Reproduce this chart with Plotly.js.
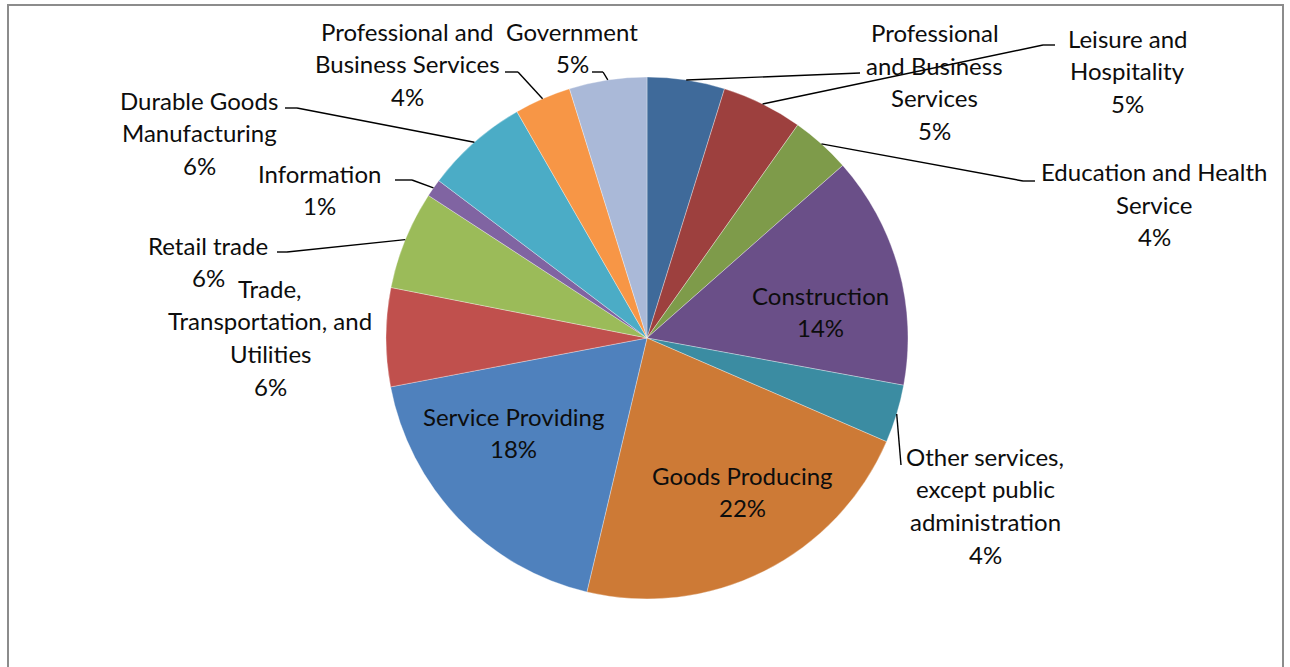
<!DOCTYPE html>
<html>
<head>
<meta charset="utf-8">
<script src="https://cdn.plot.ly/plotly-3.0.1.min.js"></script>
<style>
  html, body { margin: 0; padding: 0; background: #ffffff; }
  #chart { width: 1290px; height: 667px; }
</style>
</head>
<body>
<div id="chart"></div>
<script>
// ---- Data (clockwise from 12 o'clock) ----
const categories = [
  "Professional and Business Services",
  "Leisure and Hospitality",
  "Education and Health Service",
  "Construction",
  "Other services, except public administration",
  "Goods Producing",
  "Service Providing",
  "Trade, Transportation, and Utilities",
  "Retail trade",
  "Information",
  "Durable Goods Manufacturing",
  "Professional and Business Services ",
  "Government"
];
const values = [4.8, 5.0, 3.7, 14.4, 3.6, 22.2, 18.3, 6.1, 6.1, 1.1, 6.4, 3.5, 4.8];
// label text as wrapped in the reference
const labelLines = [
  ["Professional", "and Business", "Services"],
  ["Leisure and", "Hospitality"],
  ["Education and Health", "Service"],
  ["Construction"],
  ["Other services,", "except public", "administration"],
  ["Goods Producing"],
  ["Service Providing"],
  ["Trade,", "Transportation, and", "Utilities"],
  ["Retail trade"],
  ["Information"],
  ["Durable Goods", "Manufacturing"],
  ["Professional and", "Business Services"],
  ["Government"]
];
const colors = ["#3F6A9A", "#9D403E", "#7E9B4A", "#6A4F88", "#3B8CA2", "#CD7A36",
                "#4F81BD", "#C0504D", "#9BBB59", "#8064A2", "#4BACC6", "#F79646", "#AAB9D8"];

// ---- Layout (pixel positions of label blocks and leader-line elbows) ----
const W = 1290, H = 667;
const CX = 647, CY = 338, R = 261;
const labelPos = [
  {x: 935, y: 34.5}, {x: 1127, y: 40}, {x: 1154, y: 173.5}, {x: 820, y: 297},
  {x: 985, y: 458}, {x: 742, y: 477}, {x: 513, y: 418}, {x: 270, y: 290},
  {x: 208, y: 247}, {x: 319, y: 175}, {x: 199, y: 102}, {x: 407, y: 33},
  {x: 572, y: 33}
];
const TEXT_DY = -2;
// leader-line path after leaving the slice (null = no leader line)
const leaderPath = [
  [[860, 73]],
  [[1043, 45], [1055, 45]],
  [[1023, 181], [1035, 181]],
  null,
  [[901, 465]],
  null,
  null,
  null,
  [[287, 252], [277, 252]],
  [[412, 180], [395, 180]],
  [[297, 108], [285, 108]],
  [[518, 72], [505, 72]],
  [[603, 72], [592, 72]]
];
const LINE_GAP = 32.7;
const FONT = "Lato, 'Open Sans', sans-serif";
const FSIZE = 24;

const px = x => x / W;
const py = y => 1 - y / H;

const total = values.reduce((a, b) => a + b, 0);
const pctText = values.map(v => Math.round(v / total * 100) + "%");

// annotations: one per text line
const annotations = [];
labelLines.forEach((lines, i) => {
  const all = lines.concat([pctText[i]]);
  all.forEach((t, k) => {
    annotations.push({
      xref: "paper", yref: "paper",
      x: px(labelPos[i].x), y: py(labelPos[i].y + TEXT_DY + k * LINE_GAP),
      text: t, showarrow: false,
      xanchor: "center", yanchor: "middle",
      font: {family: FONT, size: FSIZE, color: "#0d0d0d"}
    });
  });
});

// leader lines start at slice mid-angle on the rim
const shapes = [];
let cum = 0;
values.forEach((v, i) => {
  const mid = (cum + v / 2) / total * 2 * Math.PI;
  cum += v;
  const path = leaderPath[i];
  if (!path) return;
  let prev = [CX + R * Math.sin(mid), CY - R * Math.cos(mid)];
  path.forEach(p => {
    shapes.push({
      type: "line", xref: "paper", yref: "paper",
      x0: px(prev[0]), y0: py(prev[1]), x1: px(p[0]), y1: py(p[1]),
      line: {color: "#000000", width: 1.4}
    });
    prev = p;
  });
});

// chart border
shapes.push({
  type: "rect", xref: "paper", yref: "paper",
  x0: px(8), x1: px(1283), y0: py(700), y1: py(5),
  line: {color: "#8C8C8C", width: 2}, fillcolor: "rgba(0,0,0,0)", layer: "below"
});

const trace = {
  type: "pie",
  labels: categories,
  values: values,
  sort: false,
  direction: "clockwise",
  rotation: 0,
  textinfo: "none",
  hoverinfo: "label+percent",
  marker: {colors: colors, line: {color: "rgba(255,255,255,0.55)", width: 0.6}},
  domain: {x: [px(CX - R), px(CX + R)], y: [py(CY + R), py(CY - R)]},
  showlegend: false
};

const layout = {
  width: W, height: H,
  margin: {l: 0, r: 0, t: 0, b: 0},
  paper_bgcolor: "#ffffff",
  showlegend: false,
  annotations: annotations,
  shapes: shapes
};

Plotly.newPlot("chart", [trace], layout, {displayModeBar: false, staticPlot: true});
</script>
</body>
</html>
